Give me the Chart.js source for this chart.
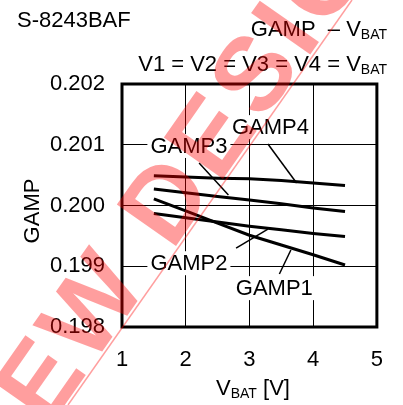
<!DOCTYPE html>
<html>
<head>
<meta charset="utf-8">
<script src="https://cdn.jsdelivr.net/npm/chart.js@4.4.0/dist/chart.umd.min.js"></script>
<style>
  html, body { margin: 0; padding: 0; background: #fff; }
  #wrap { width: 403px; height: 405px; }
</style>
</head>
<body>
<div id="wrap"><canvas id="GampChart" width="403" height="405"></canvas></div>
<script>
var vbat = [1.5, 2, 2.5, 3, 3.5, 4, 4.5];
var gamp1 = [0.20011, 0.19991, 0.19971, 0.19951, 0.19935, 0.19919, 0.19902];
var gamp2 = [0.19987, 0.19980, 0.19973, 0.19966, 0.19960, 0.19954, 0.19949];
var gamp3 = [0.20027, 0.20021, 0.20015, 0.20009, 0.20003, 0.19996, 0.19990];
var gamp4 = [0.20049, 0.20047, 0.20045, 0.20044, 0.20041, 0.20037, 0.20033];
var seriesNames = ['GAMP1', 'GAMP2', 'GAMP3', 'GAMP4'];
var xTicks = [1, 2, 3, 4, 5];
var yTicks = [0.198, 0.199, 0.200, 0.201, 0.202];

var FONT = "'Liberation Sans', Arial, sans-serif";

// label text position + leader line (data coords)
var callouts = [
  { text: 'GAMP1', x: 3.39, y: 0.19864, from: [3.47, 0.198873], to: [3.65, 0.199267] },
  { text: 'GAMP2', x: 2.05, y: 0.19905, from: [2.79, 0.19930], to: [3.29, 0.19961] },
  { text: 'GAMP3', x: 2.05, y: 0.20098, from: [2.21, 0.20070], to: [2.67, 0.200173] },
  { text: 'GAMP4', x: 3.33, y: 0.20129, from: [3.29, 0.201012], to: [3.74, 0.20037] }
];

function toPoints(ys) {
  return vbat.map(function (v, i) { return { x: v, y: ys[i] }; });
}

// draws pieces like [['V', false], ['BAT', true]] right/left/center aligned
function drawRich(ctx, parts, x, y, align) {
  var total = 0;
  parts.forEach(function (p) {
    ctx.font = (p[1] ? '14px ' : '22px ') + FONT;
    total += ctx.measureText(p[0]).width;
  });
  var cx = align === 'right' ? x - total : (align === 'center' ? x - total / 2 : x);
  ctx.textAlign = 'left';
  ctx.textBaseline = 'alphabetic';
  parts.forEach(function (p) {
    ctx.font = (p[1] ? '14px ' : '22px ') + FONT;
    ctx.fillText(p[0], cx, p[1] ? y + 3 : y);
    cx += ctx.measureText(p[0]).width;
  });
}

var decorPlugin = {
  id: 'decor',
  beforeDatasetsDraw: function (chart) {
    var ctx = chart.ctx;
    ctx.save();
    ctx.fillStyle = '#000';
    ctx.font = '22px ' + FONT;
    ctx.textAlign = 'left';
    ctx.fillText('S-8243BAF', 17, 27);
    drawRich(ctx, [['GAMP  \u2013 V', false], ['BAT', true]], 387, 36, 'right');
    drawRich(ctx, [['V1 = V2 = V3 = V4 = V', false], ['BAT', true]], 387, 71, 'right');
    drawRich(ctx, [['V', false], ['BAT', true], [' [V]', false]], 253, 395, 'center');
    ctx.translate(39, 211);
    ctx.rotate(-Math.PI / 2);
    ctx.font = '22px ' + FONT;
    ctx.textAlign = 'center';
    ctx.fillText('GAMP', 0, 0);
    ctx.restore();
  },
  afterDatasetsDraw: function (chart) {
    var ctx = chart.ctx;
    var xs = chart.scales.x, ys = chart.scales.y;
    var a = chart.chartArea;
    ctx.save();
    callouts.forEach(function (c) {
      ctx.strokeStyle = '#000';
      ctx.lineWidth = 1.5;
      ctx.beginPath();
      ctx.moveTo(xs.getPixelForValue(c.from[0]), ys.getPixelForValue(c.from[1]));
      ctx.lineTo(xs.getPixelForValue(c.to[0]), ys.getPixelForValue(c.to[1]));
      ctx.stroke();
      ctx.font = '22px ' + FONT;
      var w = ctx.measureText(c.text).width;
      var px = xs.getPixelForValue(c.x), py = ys.getPixelForValue(c.y);
      ctx.fillStyle = '#fff';
      ctx.fillRect(px - w / 2 - 3, py - 12, w + 6, 24);
      ctx.fillStyle = '#000';
      ctx.textAlign = 'center';
      ctx.textBaseline = 'middle';
      ctx.fillText(c.text, px, py + 1);
    });
    ctx.lineWidth = 3;
    ctx.strokeStyle = '#000';
    ctx.strokeRect(a.left, a.top, a.right - a.left, a.bottom - a.top);
    ctx.restore();
  },
  afterDraw: function (chart) {
    // red "NEW DESIGN" watermark
    var ctx = chart.ctx;
    var ang = -55 * Math.PI / 180;
    ctx.save();
    ctx.fillStyle = 'rgba(255, 0, 0, 0.38)';
    ctx.strokeStyle = 'rgba(255, 0, 0, 0.38)';
    ctx.lineWidth = 1.5;
    ctx.beginPath();
    ctx.moveTo(68, 405);
    ctx.lineTo(352, 0);
    ctx.stroke();
    ctx.translate(1, 496);
    ctx.rotate(ang);
    ctx.font = 'bold 105px ' + FONT;
    ctx.letterSpacing = '6px';
    ctx.textAlign = 'left';
    ctx.textBaseline = 'alphabetic';
    ctx.fillText('NEW DESIGN', 0, 0);
    ctx.restore();
  }
};

var lineStyle = { borderColor: '#000', borderWidth: 3, pointRadius: 0, tension: 0, fill: false };

var config = {
  type: 'line',
  data: {
    datasets: [gamp1, gamp2, gamp3, gamp4].map(function (s, i) {
      return Object.assign({ label: seriesNames[i], data: toPoints(s) }, lineStyle);
    })
  },
  options: {
    responsive: false,
    animation: false,
    layout: { padding: { top: 84, right: 17, left: 0, bottom: 0 } },
    plugins: { legend: { display: false }, tooltip: { enabled: false } },
    scales: {
      x: {
        type: 'linear', min: 1, max: 5,
        afterFit: function (s) { s.height = 78; },
        afterBuildTicks: function (s) { s.ticks = xTicks.map(function (v) { return { value: v }; }); },
        grid: { color: '#000', lineWidth: 1, drawTicks: false },
        border: { display: false },
        ticks: { color: '#000', padding: 20, maxRotation: 0, font: { family: FONT, size: 22 } }
      },
      y: {
        type: 'linear', min: 0.198, max: 0.202,
        afterFit: function (s) { s.width = 122; },
        afterBuildTicks: function (s) { s.ticks = yTicks.map(function (v) { return { value: v }; }); },
        grid: { color: '#000', lineWidth: 1, drawTicks: false },
        border: { display: false },
        ticks: {
          color: '#000', padding: 17, font: { family: FONT, size: 22 },
          callback: function (v) { return v.toFixed(3); }
        }
      }
    }
  },
  plugins: [decorPlugin]
};

var ctx = document.getElementById('GampChart').getContext('2d');
window.gampChart = new Chart(ctx, config);
</script>
</body>
</html>
